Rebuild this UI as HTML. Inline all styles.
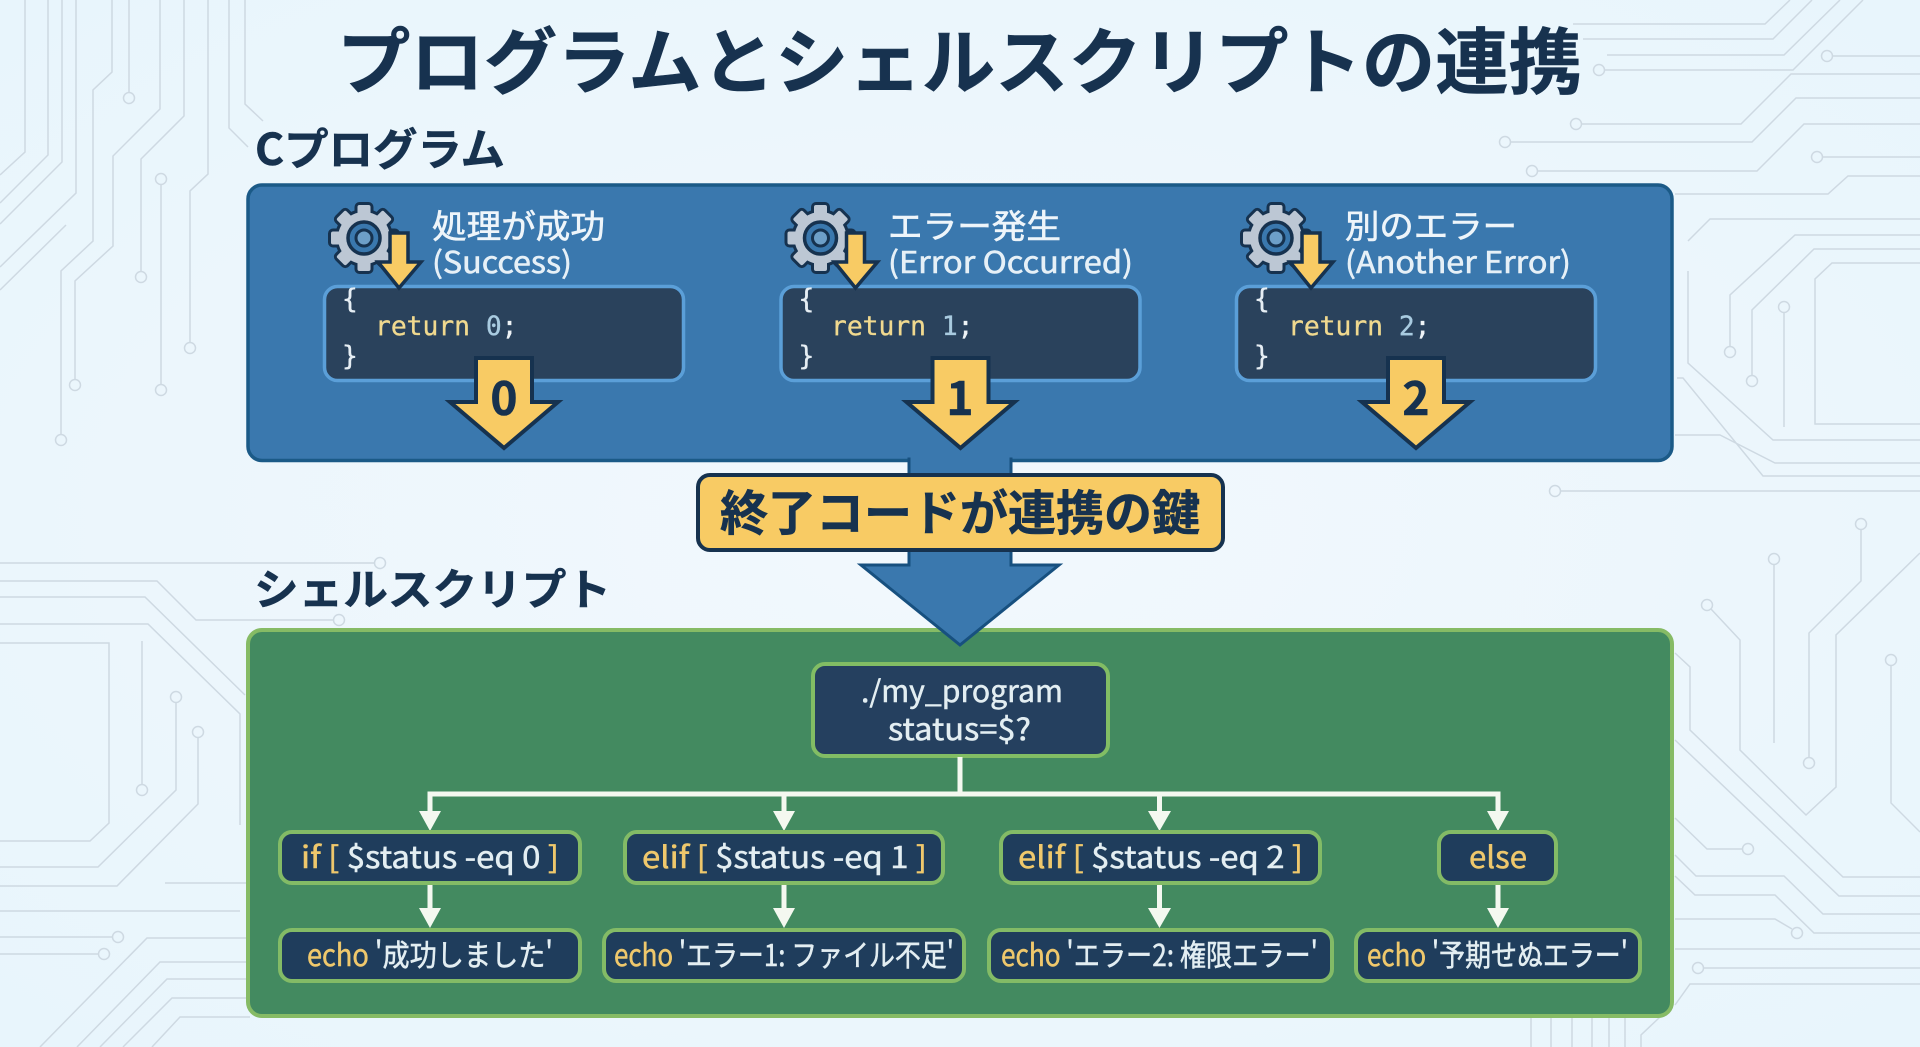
<!DOCTYPE html>
<html lang="ja"><head><meta charset="utf-8"><title>プログラムとシェルスクリプトの連携</title>
<style>
html,body{margin:0;padding:0;width:1920px;height:1047px;overflow:hidden;background:#ebf6fc}
svg{display:block;position:absolute;left:0;top:0}
text{font-family:"Noto Sans CJK JP","Liberation Sans",sans-serif}
.mono{font-family:"DejaVu Sans Mono","Liberation Mono",monospace;font-size:26.3px;stroke:currentColor;stroke-width:.35px}
.h{font-weight:700;fill:#17324f;stroke:#17324f;stroke-width:.6px}
.lab{font-size:33px;fill:#eef5fa;stroke:#eef5fa;stroke-width:.6px}
.lab2{font-size:30px;fill:#e6f0f7;stroke:#e6f0f7;stroke-width:.6px}
.cmd{font-size:30px;fill:#e3eef2;stroke:#e3eef2;stroke-width:.5px}
.kw,.br{fill:#efc86c;stroke:#efc86c}
</style></head><body>
<svg width="1920" height="1047" viewBox="0 0 1920 1047" xmlns="http://www.w3.org/2000/svg">
<defs>
<radialGradient id="bg" cx="50%" cy="50%" r="70%"><stop offset="0" stop-color="#f2f8fd"/><stop offset="1" stop-color="#e8f5fc"/></radialGradient>
<g id="teeth">
<rect x="-6.5" y="-33" width="13" height="66" rx="2"/>
<rect x="-6.5" y="-33" width="13" height="66" rx="2" transform="rotate(45)"/>
<rect x="-6.5" y="-33" width="13" height="66" rx="2" transform="rotate(90)"/>
<rect x="-6.5" y="-33" width="13" height="66" rx="2" transform="rotate(135)"/>
<circle r="26"/>
</g>
<g id="col">
<g transform="translate(364 238)">
<use href="#teeth" fill="#16324f" stroke="#16324f" stroke-width="6"/>
<use href="#teeth" fill="#bcc7d4"/>
<circle r="16" fill="#3a78ae" stroke="#16324f" stroke-width="3.5"/>
<circle r="8" fill="#6d9fc8" stroke="#16324f" stroke-width="3"/>
</g>
<rect x="324.5" y="286.5" width="359" height="94" rx="13" fill="#2a425c" stroke="#5b9fd8" stroke-width="3.5"/>
<path d="M390 233H408V262H421L399 288L378 262H390Z" fill="#f8cb64" stroke="#16324f" stroke-width="3.5" stroke-linejoin="miter"/>
<path d="M476 358H532V402H558L504 448L450 402H476Z" fill="#f8cb64" stroke="#16324f" stroke-width="4"/>
<text class="mono" x="342" y="308" fill="#e6eef4" color="#e6eef4">{</text>
<text class="mono" x="342" y="365" fill="#e6eef4" color="#e6eef4">}</text>
</g>
</defs>
<rect width="1920" height="1047" fill="url(#bg)"/>

<g fill="none" stroke="#ced9e2" stroke-width="1.5">
<path d="M25 0V152L0 175M48 0V155L0 203M62 0V162L0 224M76 0V193L0 267M66 225L0 290"/>
<path d="M112 0V72L93 90V241L61 271V434"/>
<path d="M129 0V92"/>
<path d="M160 0V109L113 156V246L75 281V379"/>
<path d="M184 0V116L141 159V271"/>
<path d="M161 185V384"/>
<path d="M208 0V174L190 191V342"/>
<path d="M229 0V128L248 147M245 0V104L263 121"/>
<circle cx="61" cy="440" r="5.5"/><circle cx="129" cy="98" r="5.5"/><circle cx="75" cy="385" r="5.5"/><circle cx="141" cy="277" r="5.5"/><circle cx="161" cy="179" r="5.5"/><circle cx="161" cy="390" r="5.5"/><circle cx="190" cy="348" r="5.5"/>

<path d="M0 563H374M0 581H157L196 620H333M0 597H145L245 695M0 624H148L240 714V825"/>
<path d="M0 643H109V823L90 841H0M142 641V784"/>
<path d="M176 703V790L98 867H0M198 738V804L117 886H0M165 883H248M0 911H240M0 937H112M0 954H98"/>
<path d="M40 1047L147 938H250M77 1047L160 962H250M100 1047L167 979H250M123 1047L172 998H250M152 1047L180 1017H250"/>
<circle cx="380" cy="563" r="5.5"/><circle cx="339" cy="620" r="5.5"/><circle cx="142" cy="790" r="5.5"/><circle cx="176" cy="697" r="5.5"/><circle cx="198" cy="732" r="5.5"/><circle cx="118" cy="937" r="5.5"/><circle cx="104" cy="954" r="5.5"/>

<path d="M1573 24H1765L1790 0M1583 39H1773L1812 0M1607 55H1784L1840 0M1605 70H1793L1863 0M1833 56H1920"/>
<path d="M1582 124H1741L1791 74H1920M1511 142H1752L1796 98H1920M1538 171H1757L1804 124H1920M1823 157H1920"/>
<path d="M1675 194H1828L1848 176H1920M1688 241L1710 219H1920M1688 271V363L1773 440H1920"/>
<path d="M1730 346V295L1795 235H1920M1752 375V310L1814 249H1920M1784 313V427M1920 424H1815V279L1832 263H1920"/>
<path d="M1677 378H1683L1763 476H1920M1675 435H1720L1775 463H1920M1561 491H1920"/>
<circle cx="1599" cy="70" r="5.5"/><circle cx="1827" cy="56" r="5.5"/><circle cx="1576" cy="124" r="5.5"/><circle cx="1505" cy="142" r="5.5"/><circle cx="1532" cy="171" r="5.5"/><circle cx="1817" cy="157" r="5.5"/><circle cx="1730" cy="352" r="5.5"/><circle cx="1752" cy="381" r="5.5"/><circle cx="1784" cy="307" r="5.5"/><circle cx="1555" cy="491" r="5.5"/>

<path d="M1861 530V581L1809 633V757M1774 565V743M1711 609L1740 640V750L1806 815L1836 787V635L1920 553M1891 666V803L1920 832"/>
<path d="M1675 653L1690 667V730L1843 877H1920M1675 740L1839 896H1920M1675 818L1707 849H1742M1675 855L1696 876H1784L1823 914H1920M1675 876L1695 895H1775L1814 933H1920M1675 919H1775L1792 929M1675 949H1920M1704 968H1920M1675 1005L1690 984H1920"/>
<path d="M1531 1017V1047M1551 1017V1047M1572 1017V1047M1592 1017V1047M1609 1017V1047M1625 1017V1047M1641 1047V1035L1660 1017"/>
<circle cx="1861" cy="524" r="5.5"/><circle cx="1809" cy="763" r="5.5"/><circle cx="1774" cy="559" r="5.5"/><circle cx="1707" cy="605" r="5.5"/><circle cx="1891" cy="660" r="5.5"/><circle cx="1748" cy="849" r="5.5"/><circle cx="1797" cy="933" r="5.5"/><circle cx="1698" cy="968" r="5.5"/>
</g>

<text class="h" x="337" y="88" font-size="72" textLength="1245" lengthAdjust="spacingAndGlyphs">プログラムとシェルスクリプトの連携</text>
<text class="h" x="255" y="165" font-size="44" textLength="250" lengthAdjust="spacingAndGlyphs">Cプログラム</text>
<text class="h" x="254" y="605" font-size="43" textLength="357" lengthAdjust="spacingAndGlyphs">シェルスクリプト</text>

<rect x="248" y="185" width="1424" height="275.5" rx="14" fill="#3a78ae" stroke="#1b5a87" stroke-width="3.5"/>

<use href="#col"/>
<use href="#col" x="456.5"/>
<use href="#col" x="912"/>

<text class="lab" x="432" y="238" textLength="173" lengthAdjust="spacingAndGlyphs">処理が成功</text>
<text class="lab2" x="432" y="273" textLength="140" lengthAdjust="spacingAndGlyphs">(Success)</text>
<text class="lab" x="888" y="238" textLength="173" lengthAdjust="spacingAndGlyphs">エラー発生</text>
<text class="lab2" x="888" y="273" textLength="245" lengthAdjust="spacingAndGlyphs">(Error Occurred)</text>
<text class="lab" x="1345" y="238" textLength="172" lengthAdjust="spacingAndGlyphs">別のエラー</text>
<text class="lab2" x="1345" y="273" textLength="226" lengthAdjust="spacingAndGlyphs">(Another Error)</text>

<text class="mono" x="375" y="335" fill="#f0d98f" color="#f0d98f">return <tspan fill="#a9cbe0" stroke="#a9cbe0">0</tspan><tspan fill="#eef3f6" stroke="#eef3f6">;</tspan></text>
<text class="mono" x="831" y="335" fill="#f0d98f" color="#f0d98f">return <tspan fill="#a9cbe0" stroke="#a9cbe0">1</tspan><tspan fill="#eef3f6" stroke="#eef3f6">;</tspan></text>
<text class="mono" x="1288" y="335" fill="#f0d98f" color="#f0d98f">return <tspan fill="#a9cbe0" stroke="#a9cbe0">2</tspan><tspan fill="#eef3f6" stroke="#eef3f6">;</tspan></text>

<g font-size="46" text-anchor="middle"><text class="h" x="504" y="415">0</text><text class="h" x="960" y="415">1</text><text class="h" x="1416" y="415">2</text></g>

<rect x="248" y="630" width="1424" height="386" rx="14" fill="#438a60" stroke="#86bb65" stroke-width="4"/>

<path d="M909 459H1011V565H1059L960 645L861 565H909Z" fill="#3a78ae" stroke="#17507f" stroke-width="3"/>
<rect x="910.5" y="455" width="99" height="12" fill="#3a78ae"/>
<rect x="698" y="475" width="525" height="75" rx="12" fill="#f8cb64" stroke="#16324f" stroke-width="4"/>
<text class="h" x="720" y="530" font-size="48" textLength="480" lengthAdjust="spacingAndGlyphs">終了コードが連携の鍵</text>

<rect x="813" y="664" width="295" height="92" rx="12" fill="#25405f" stroke="#82bd64" stroke-width="4"/>
<text class="cmd" x="861" y="702" textLength="202" lengthAdjust="spacingAndGlyphs">./my_program</text>
<text class="cmd" x="888" y="740" textLength="143" lengthAdjust="spacingAndGlyphs">status=$?</text>

<g fill="none" stroke="#f4f8f0" stroke-width="5">
<path d="M960 757V794M430 812V794H1498V812M784 794V812M1159.5 794V812"/>
<path d="M430 884V910M784 884V910M1159.5 884V910M1498 884V910"/>
</g>
<g fill="#f4f8f0">
<path d="M419 811H441L430 831Z"/><path d="M773 811H795L784 831Z"/><path d="M1148 811H1171L1159.5 831Z"/><path d="M1487 811H1509L1498 831Z"/>
<path d="M419 908H441L430 928Z"/><path d="M773 908H795L784 928Z"/><path d="M1148 908H1171L1159.5 928Z"/><path d="M1487 908H1509L1498 928Z"/>
</g>

<g fill="#1f3d5c" stroke="#83bb66" stroke-width="4">
<rect x="280" y="832" width="300" height="51" rx="12"/>
<rect x="625" y="832" width="318" height="51" rx="12"/>
<rect x="1001" y="832" width="319" height="51" rx="12"/>
<rect x="1439" y="832" width="117" height="51" rx="12"/>
<rect x="280" y="930" width="300" height="51" rx="12"/>
<rect x="604" y="930" width="360" height="51" rx="12"/>
<rect x="989" y="930" width="343" height="51" rx="12"/>
<rect x="1356" y="930" width="284" height="51" rx="12"/>
</g>

<text class="cmd" x="301" y="868" textLength="258" lengthAdjust="spacingAndGlyphs"><tspan class="kw">if</tspan> <tspan class="br">[</tspan> $status -eq 0 <tspan class="br">]</tspan></text>
<text class="cmd" x="642" y="868" textLength="285" lengthAdjust="spacingAndGlyphs"><tspan class="kw">elif</tspan> <tspan class="br">[</tspan> $status -eq 1 <tspan class="br">]</tspan></text>
<text class="cmd" x="1018" y="868" textLength="285" lengthAdjust="spacingAndGlyphs"><tspan class="kw">elif</tspan> <tspan class="br">[</tspan> $status -eq 2 <tspan class="br">]</tspan></text>
<text class="cmd kw" x="1469" y="868" textLength="58" lengthAdjust="spacingAndGlyphs">else</text>
<text class="cmd" x="307" y="966" textLength="246" lengthAdjust="spacingAndGlyphs"><tspan class="kw">echo</tspan> '成功しました'</text>
<text class="cmd" x="614" y="966" textLength="340" lengthAdjust="spacingAndGlyphs"><tspan class="kw">echo</tspan> 'エラー1: ファイル不足'</text>
<text class="cmd" x="1001" y="966" textLength="317" lengthAdjust="spacingAndGlyphs"><tspan class="kw">echo</tspan> 'エラー2: 権限エラー'</text>
<text class="cmd" x="1367" y="966" textLength="261" lengthAdjust="spacingAndGlyphs"><tspan class="kw">echo</tspan> '予期せぬエラー'</text>
</svg>
</body></html>
